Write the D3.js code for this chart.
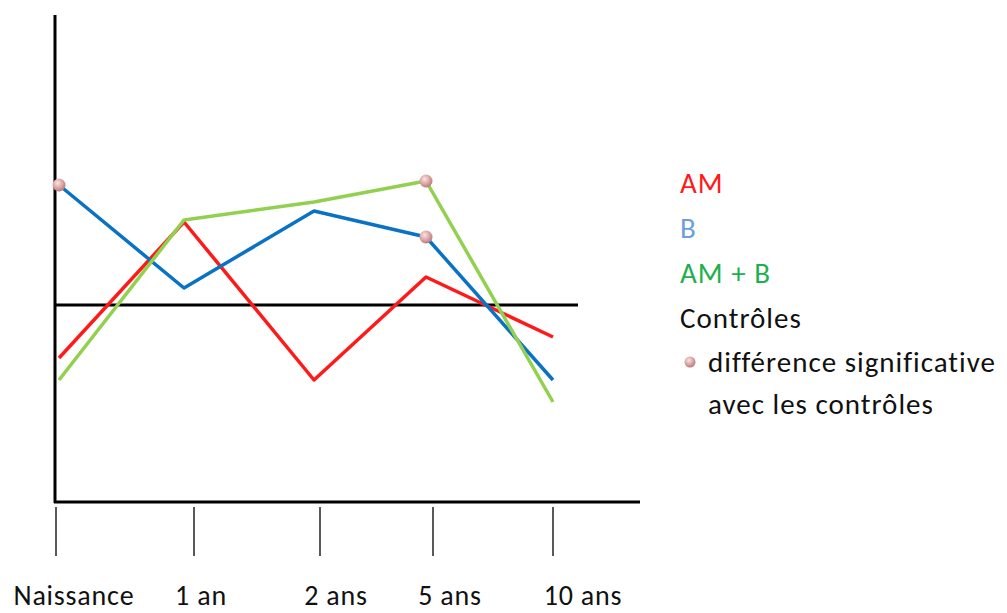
<!DOCTYPE html>
<html><head><meta charset="utf-8">
<script src="https://cdn.jsdelivr.net/npm/d3@7"></script>
<style>body{margin:0;background:#fff}svg{display:block}text{font-family:Carlito,Calibri,Lato,"Open Sans",sans-serif}</style>
</head><body><svg id="c" width="1007" height="613"></svg>
<script>
const categories = ["Naissance", "1 an", "2 ans", "5 ans", "10 ans"];
const seriesNames = ["AM", "B", "AM + B"];
const amValues = [-5.3, 8.3, -7.5, 2.8, -3.2];
const bValues = [12.0, 1.7, 9.4, 6.8, -7.5];
const ambValues = [-7.5, 8.5, 10.3, 12.4, -9.7];
const controlValue = 0;
const significant = [["B", "Naissance"], ["AM + B", "5 ans"], ["B", "5 ans"]];
const legendLabels = ["AM", "B", "AM + B", "Contrôles"];
const noteLines = ["différence significative", "avec les contrôles"];

const svg = d3.select("#c");
const defs = svg.append("defs");
const g = defs.append("radialGradient").attr("id","pink").attr("cx","40%").attr("cy","35%").attr("r","65%");
g.append("stop").attr("offset","0%").attr("stop-color","#f8e4e4");
g.append("stop").attr("offset","60%").attr("stop-color","#dca2a2");
g.append("stop").attr("offset","100%").attr("stop-color","#b97b7b");

const y = d3.scaleLinear().domain([-19.7, 29.0]).range([502, 15]);
const xData = d3.scaleOrdinal().domain(categories).range([59, 184, 314, 426, 553]);
const xTick = d3.scaleOrdinal().domain(categories).range([56, 194, 320, 433, 553]);
const xLabel = d3.scaleOrdinal().domain(categories).range([74, 201, 336, 450, 583]);

const colors = {"AM":"#ff1a1a","B":"#0a72c4","AM + B":"#92d050"};
const legendColors = ["#ff1a1a","#6a9fe0","#1eb050","#111"];
const data = {"AM":amValues,"B":bValues,"AM + B":ambValues};

// axes
svg.append("line").attr("x1",55).attr("x2",55).attr("y1",15).attr("y2",503).attr("stroke","#000").attr("stroke-width",3);
svg.append("line").attr("x1",54).attr("x2",640).attr("y1",502).attr("y2",502).attr("stroke","#000").attr("stroke-width",3);
svg.selectAll(".tick").data(categories).join("line")
  .attr("x1",d=>xTick(d)).attr("x2",d=>xTick(d)).attr("y1",507).attr("y2",556)
  .attr("stroke","#222").attr("stroke-width",1.5);
svg.selectAll(".xl").data(categories).join("text")
  .attr("x",d=>xLabel(d)).attr("y",605).attr("text-anchor","middle")
  .attr("font-size",28).attr("letter-spacing",0.8).attr("fill","#111").text(d=>d);

// control line
svg.append("line").attr("x1",55).attr("x2",578).attr("y1",y(controlValue)).attr("y2",y(controlValue)).attr("stroke","#000").attr("stroke-width",3);

const line = d3.line().x((d,i)=>xData(categories[i])).y(d=>y(d));
["AM","B","AM + B"].forEach(s=>{
  svg.append("path").attr("d",line(data[s])).attr("fill","none").attr("stroke",colors[s]).attr("stroke-width",3.5).attr("stroke-linejoin","round");
});
// markers
svg.selectAll(".m").data(significant).join("circle")
  .attr("cx",d=>xData(d[1])).attr("cy",d=>y(data[d[0]][categories.indexOf(d[1])]))
  .attr("r",6.5).attr("fill","url(#pink)");

// legend
svg.selectAll(".lg").data(legendLabels).join("text")
  .attr("x",680).attr("y",(d,i)=>193+i*45).attr("font-size",29).attr("letter-spacing",1)
  .attr("fill",(d,i)=>legendColors[i]).text(d=>d);
svg.append("circle").attr("cx",690).attr("cy",362).attr("r",5.5).attr("fill","url(#pink)");
svg.selectAll(".nt").data(noteLines).join("text")
  .attr("x",708).attr("y",(d,i)=>372+i*42).attr("font-size",29).attr("letter-spacing",1).attr("fill","#111").text(d=>d);
</script></body></html>
